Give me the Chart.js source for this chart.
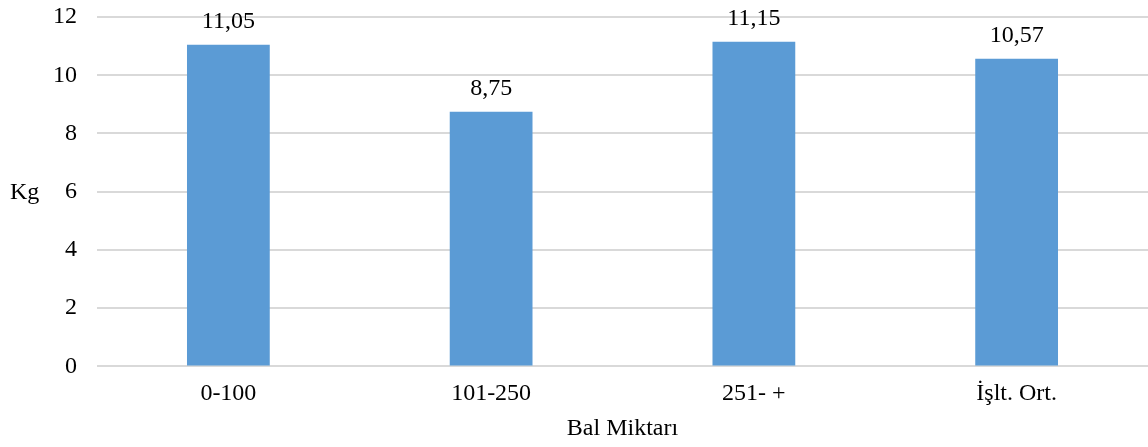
<!DOCTYPE html>
<html lang="tr">
<head>
  <meta charset="UTF-8">
  <title>Bal Miktarı - Kg</title>
  <script src="https://cdn.jsdelivr.net/npm/chart.js"></script>
  <style>
    html, body {
      margin: 0;
      padding: 0;
      background: white;
    }
    #wrap {
      width: 1148px;
      height: 447px;
    }
  </style>
</head>
<body>

<div id="wrap"><canvas id="balChart" width="1148" height="447"></canvas></div>

<script>
  // veriler
  const categories = ["0-100", "101-250", "251- +", "İşlt. Ort."];
  const kgValues = [11.05, 8.75, 11.15, 10.57];
  const yTicks = [0, 2, 4, 6, 8, 10, 12];

  const fontFamily = "'Liberation Serif', 'Times New Roman', serif";
  const fontSize = 24;

  // bar üstü değer etiketleri + yatay "Kg" başlığı
  const labelPlugin = {
    id: "barLabels",
    afterDatasetsDraw(chart) {
      const ctx = chart.ctx;
      ctx.save();
      ctx.font = fontSize + "px " + fontFamily;
      ctx.fillStyle = "#000";
      ctx.textAlign = "center";
      ctx.textBaseline = "middle";
      chart.getDatasetMeta(0).data.forEach((bar, i) => {
        const txt = kgValues[i].toFixed(2).replace(".", ",");
        ctx.fillText(txt, bar.x, bar.y - 23);
      });
      const area = chart.chartArea;
      ctx.textAlign = "left";
      ctx.fillText("Kg", 10, (area.top + area.bottom) / 2 + 1);
      ctx.restore();
    }
  };

  const chart = new Chart(document.getElementById("balChart"), {
    type: "bar",
    data: {
      labels: categories,
      datasets: [{
        data: kgValues,
        backgroundColor: "#5B9BD5",
        barPercentage: 0.315,
        categoryPercentage: 1
      }]
    },
    options: {
      responsive: false,
      animation: false,
      layout: { padding: { top: 17, right: 0, bottom: 0, left: 0 } },
      plugins: {
        legend: { display: false },
        tooltip: { enabled: false }
      },
      scales: {
        x: {
          grid: { display: false },
          border: { display: false },
          ticks: {
            color: "#000",
            padding: 5,
            font: { family: fontFamily, size: fontSize }
          },
          title: {
            display: true,
            text: "Bal Miktarı",
            color: "#000",
            padding: { top: 1, bottom: 4 },
            font: { family: fontFamily, size: fontSize }
          }
        },
        y: {
          min: 0,
          max: 12,
          afterBuildTicks(scale) {
            scale.ticks = yTicks.map(v => ({ value: v }));
          },
          afterFit(scale) {
            scale.width = 97;
            scale.paddingTop = 0;
            scale.paddingBottom = 0;
          },
          grid: { color: "#D9D9D9", lineWidth: 2, drawTicks: false },
          border: { display: false },
          ticks: {
            color: "#000",
            padding: 20,
            font: { family: fontFamily, size: fontSize }
          }
        }
      }
    },
    plugins: [labelPlugin]
  });
</script>

</body>
</html>
